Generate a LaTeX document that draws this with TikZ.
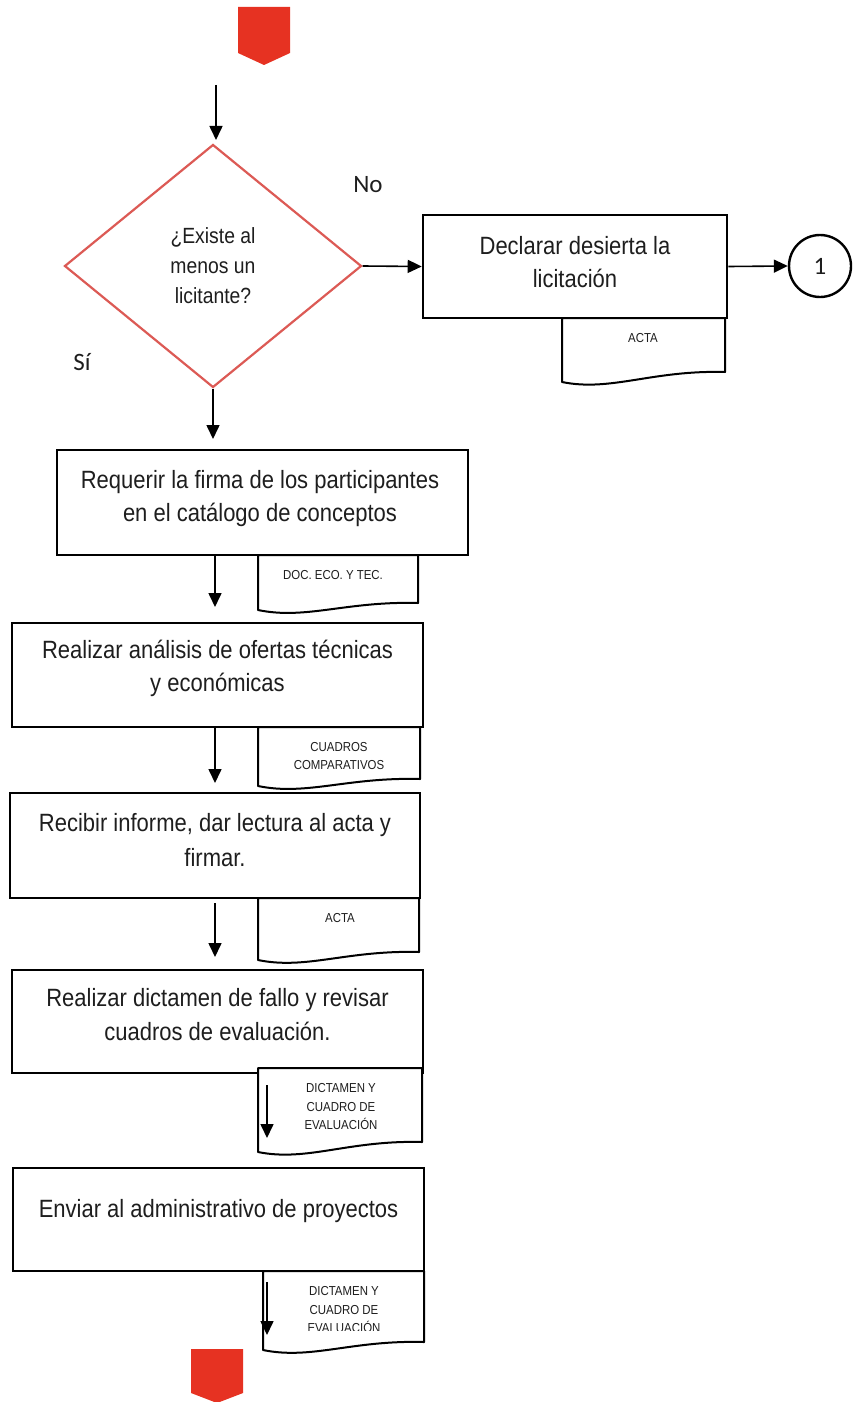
\documentclass[tikz,border=0pt]{standalone}
\usepackage{fontspec}
\setmainfont{Liberation Sans}
\newfontfamily\narrowfont[FakeStretch=0.88]{Liberation Sans}
\newfontfamily\calfont{Carlito}
\usetikzlibrary{shapes.geometric,arrows.meta,calc}
\definecolor{offred}{HTML}{E63222}
\definecolor{decred}{HTML}{DC5A55}
\definecolor{txt}{HTML}{1E1E1E}

% document symbol: left x, right x, top y, bottom-left y, bottom-right y
\newcommand\docshape[5]{%
  \draw[docline] (#1,#3) -- (#1,#4)
    .. controls ({#1+0.3*(#2-#1)},{#4+10}) and ({#1+0.55*(#2-#1)},{#5-2}) ..
    (#2,#5) -- (#2,#3) -- cycle;}

\begin{document}
\begin{tikzpicture}[x=1pt,y=-1pt,
  procbox/.style={draw=black, line width=2.6pt, fill=white, inner sep=0pt},
  proctext/.style={align=center, text=txt, inner sep=0pt, font=\narrowfont\fontsize{25}{33}\selectfont},
  doctext/.style={align=center, text=txt, inner sep=0pt, font=\narrowfont\fontsize{13}{18.5}\selectfont},
  docline/.style={draw=black, line width=2pt, fill=white, line join=round},
  arr/.style={line width=1.6pt, -{Triangle[length=14pt,width=13pt]}},
  decision/.style={diamond, draw=decred, line width=2.2pt, inner sep=0pt, aspect=1.22},
  offpage/.style={fill=offred, draw=none},
  answer/.style={text=txt, font=\calfont\fontsize{25}{28}\selectfont}
]
\useasboundingbox (0,0) rectangle (860,1402);

% off-page connector at the top
\fill[offpage] (238,7) -- (290,7) -- (290,53) -- (264,65) -- (238,53) -- cycle;
\coordinate (t0) at (216,85);
\coordinate (t1) at (216,140);
\draw[arr] (t0) -- (t1);

% decision
\node[decision, minimum width=297pt, minimum height=243pt] (dec) at (213,266) {};
\node[align=center, text=txt, font=\narrowfont\fontsize{22}{30}\selectfont] (dect) at (213,266)
  {¿Existe al\\menos un\\licitante?};
\node[answer] (no) at (368,185) {No};
\node[answer] (si) at (82,362) {Sí};

% "No" branch
\node[procbox, minimum width=304pt, minimum height=103pt] (dd) at (575,266.5) {};
\node[proctext] (ddt) at (575,262) {Declarar desierta la\\licitación};
\docshape{562}{725}{318}{382}{372}
\node[doctext] (dda) at (643,338) {ACTA};
\node[circle, draw, line width=2.4pt, minimum size=62pt, inner sep=0pt, answer] (c1) at (820,266) {1};
\draw[arr] (dec.east) -- (dd.west);
\draw[arr] (dd.east) -- (c1.west);

% "Sí" branch
\coordinate (a0) at (213,439);
\draw[arr] (dec.south) -- (a0);

\node[procbox, minimum width=411pt, minimum height=105pt] (b1) at (262.5,502.5) {};
\node[proctext] (b1t) at (260,499) {Requerir la firma de los participantes\\en el catálogo de conceptos};
\docshape{258}{418}{555}{610}{603}
\node[doctext] (d1) at (333,575) {DOC. ECO. Y TEC.};
\coordinate (a1) at (215,607);
\draw[arr] (b1.south -| a1) -- (a1);

\node[procbox, minimum width=411pt, minimum height=104pt] (b2) at (217.5,675) {};
\node[proctext] (b2t) at (217.5,668) {Realizar análisis de ofertas técnicas\\y económicas};
\docshape{258}{420}{727}{786}{779}
\node[doctext] (d2) at (339,756) {CUADROS\\COMPARATIVOS};
\coordinate (a2) at (215,783);
\draw[arr] (b2.south -| a2) -- (a2);

\node[procbox, minimum width=410pt, minimum height=105pt] (b3) at (215,845.5) {};
\node[proctext, font=\narrowfont\fontsize{25}{35}\selectfont] (b3t) at (215,840) {Recibir informe, dar lectura al acta y\\firmar.};
\docshape{258}{419}{898}{960}{952}
\node[doctext] (d3) at (340,918) {ACTA};
\coordinate (a3s) at (215,903);
\coordinate (a3) at (215,957);
\draw[arr] (a3s) -- (a3);

\node[procbox, minimum width=411pt, minimum height=103pt] (b4) at (217.5,1021.5) {};
\node[proctext, font=\narrowfont\fontsize{25}{34}\selectfont] (b4t) at (217.5,1015) {Realizar dictamen de fallo y revisar\\cuadros de evaluación.};
\docshape{258}{422}{1068}{1152}{1142}
\node[doctext] (d4) at (341,1107) {DICTAMEN Y\\CUADRO DE\\EVALUACIÓN};
\coordinate (a4s) at (267,1085);
\coordinate (a4) at (267,1138);
\draw[arr] (a4s) -- (a4);

\node[procbox, minimum width=411pt, minimum height=103pt] (b5) at (218.5,1219.5) {};
\node[proctext] (b5t) at (218.5,1211) {Enviar al administrativo de proyectos};
\docshape{263}{424}{1271}{1350}{1342}
\begin{scope}
  \clip (263,1271) rectangle (424,1330);
  \node[doctext] (d5) at (344,1310) {DICTAMEN Y\\CUADRO DE\\EVALUACIÓN};
\end{scope}
\coordinate (a5s) at (267,1282);
\coordinate (a5) at (267,1335);
\draw[arr] (a5s) -- (a5);

% off-page connector at the bottom
\fill[offpage] (191,1349) -- (243,1349) -- (243,1393) -- (217,1403) -- (191,1393) -- cycle;
\end{tikzpicture}
\end{document}
